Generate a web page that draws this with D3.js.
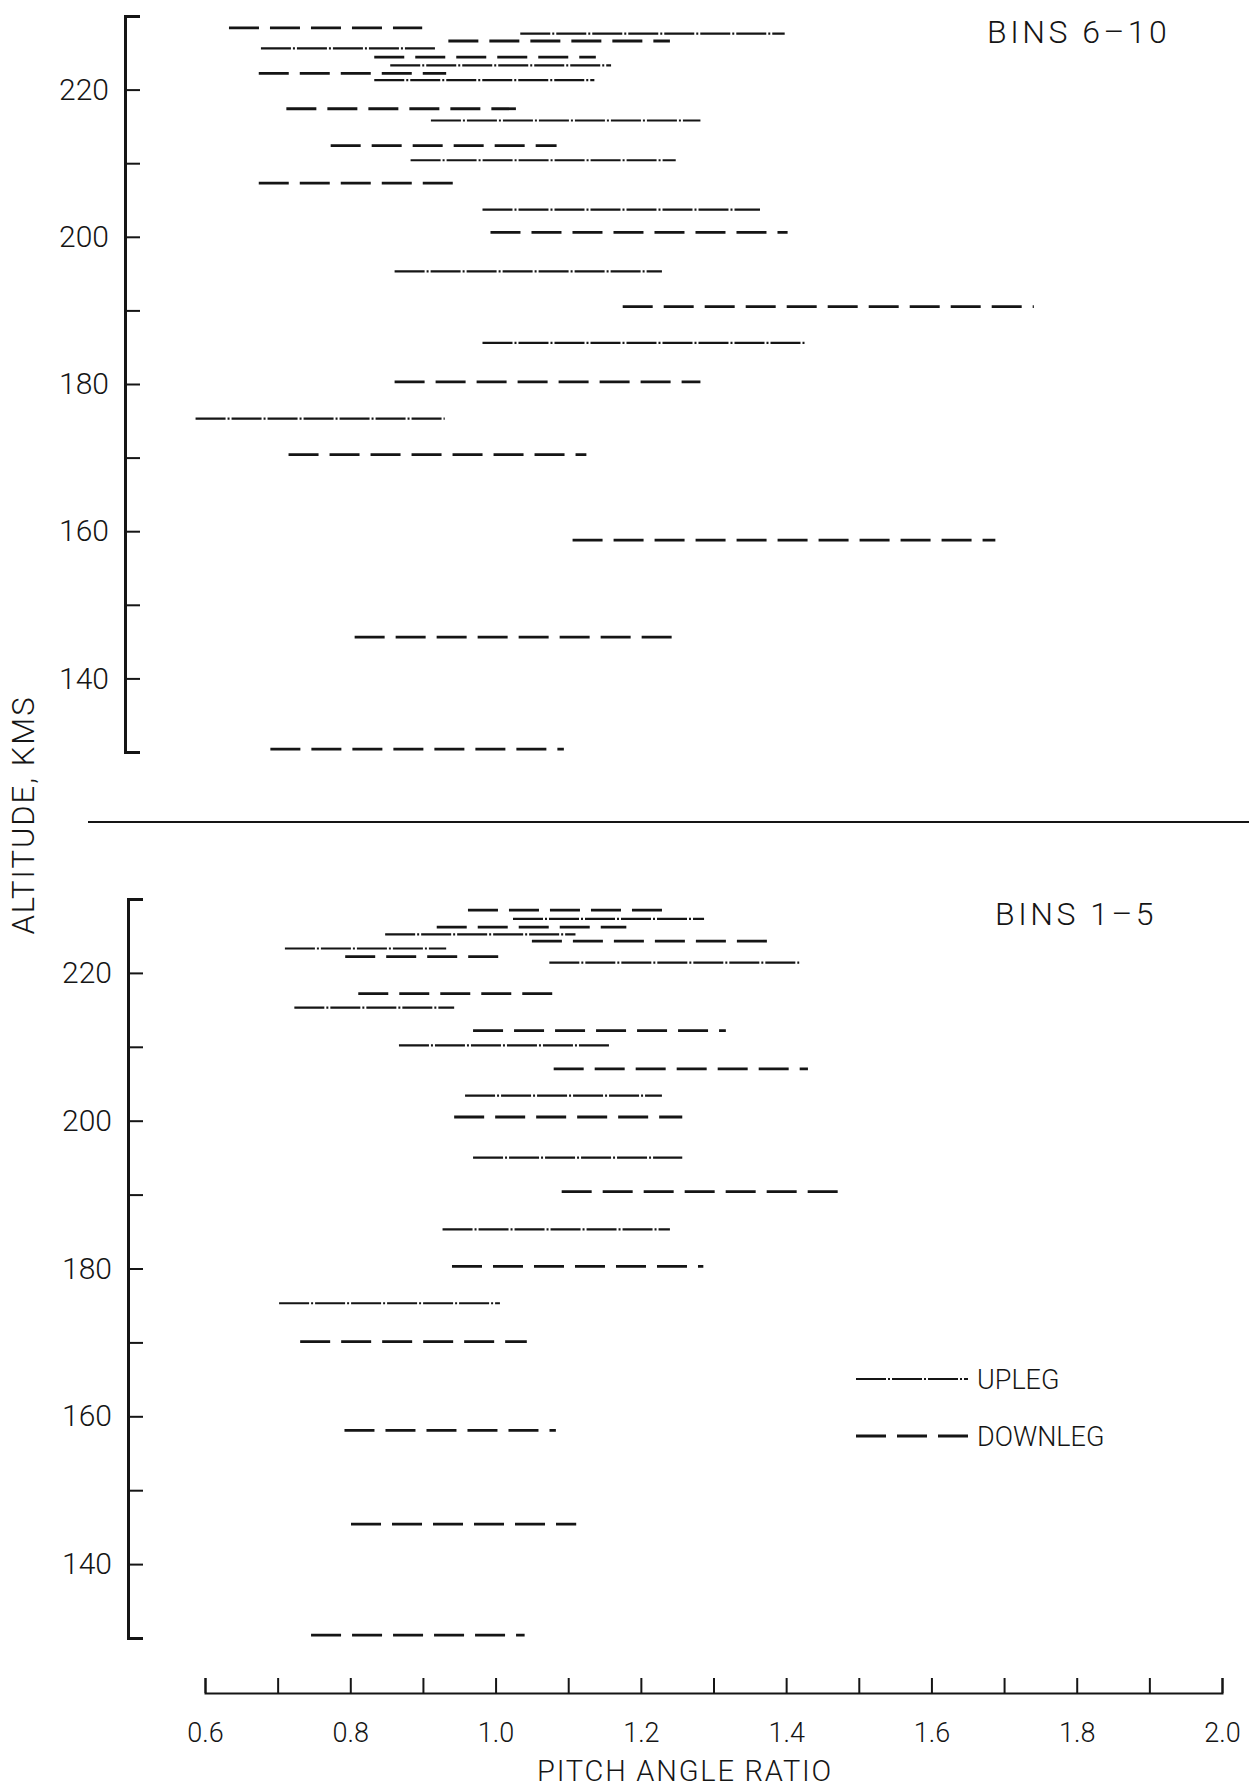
<!DOCTYPE html>
<html><head><meta charset="utf-8">
<script src="https://cdn.jsdelivr.net/npm/d3@7"></script>
<style>
body{margin:0;background:#fff;}
svg{display:block;background:#fff}
text{font-family:"Roboto","Liberation Sans",sans-serif;font-weight:300;fill:#151515}
</style></head><body>
<svg id="c" width="1249" height="1790"></svg>
<script>
// ---- tick values / labels ----
const altitudeTicks = [130,140,150,160,170,180,190,200,210,220,230];
const altitudeLabels = [140,160,180,200,220];
const ratioTicks = [0.6,0.7,0.8,0.9,1.0,1.1,1.2,1.3,1.4,1.5,1.6,1.7,1.8,1.9,2.0];
const ratioLabels = [0.6,0.8,1.0,1.2,1.4,1.6,1.8,2.0];

// ---- BINS 6-10 (upper panel): altitude, pitch-angle-ratio range, leg (U=upleg, D=downleg) ----
const bins610Alt  = [228.4,227.6,226.6,225.6,224.4,223.3,222.2,221.3,217.4,215.8,212.4,210.4,207.3,203.7,200.6,195.3,190.5,185.6,180.3,175.3,170.4,158.8,145.6,130.4];
const bins610Low  = [0.633,1.034,0.935,0.677,0.833,0.855,0.674,0.833,0.712,0.911,0.773,0.883,0.674,0.982,0.993,0.861,1.175,0.982,0.861,0.587,0.715,1.106,0.806,0.690];
const bins610High = [0.899,1.398,1.240,0.919,1.138,1.159,0.932,1.136,1.028,1.282,1.084,1.248,0.951,1.364,1.402,1.229,1.741,1.427,1.282,0.930,1.125,1.688,1.257,1.094];
const bins610Leg  = ["D","U","D","U","D","U","D","U","D","U","D","U","D","U","D","U","D","U","D","U","D","D","D","D"];

// ---- BINS 1-5 (lower panel) ----
const bins15Alt  = [228.5,227.3,226.2,225.2,224.3,223.3,222.2,221.4,217.2,215.3,212.2,210.2,207.0,203.4,200.5,195.0,190.4,185.3,180.3,175.3,170.1,158.1,145.4,130.4];
const bins15Low  = [0.962,1.024,0.919,0.848,1.050,0.710,0.793,1.074,0.811,0.723,0.969,0.867,1.080,0.958,0.943,0.969,1.091,0.927,0.940,0.702,0.731,0.792,0.801,0.746];
const bins15High = [1.240,1.287,1.180,1.110,1.376,0.932,1.015,1.418,1.078,0.943,1.317,1.158,1.430,1.229,1.257,1.257,1.476,1.240,1.286,1.006,1.043,1.083,1.111,1.040];
const bins15Leg  = ["D","U","D","U","D","U","D","U","D","U","D","U","D","U","D","U","D","U","D","U","D","D","D","D"];

const legTypes = ["U","D"];
const legNames = ["UPLEG","DOWNLEG"];

// ---- styles ----
const legStyle = {
  U: {w: 2.2, dash: "30,2,2,2"},
  D: {w: 2.8, dash: "30,11"}
};
const ink = "#151515";
const font = '"Roboto","Liberation Sans",sans-serif';

const svg = d3.select("#c");
const x = d3.scaleLinear().domain([0.6, 2.0]).range([205, 1222]);

const panels = [
  {alt: bins610Alt, lo: bins610Low, hi: bins610High, leg: bins610Leg, axisX: 125, range: [752, 16], title: "BINS 6–10", tx: 987, ty: 43},
  {alt: bins15Alt, lo: bins15Low, hi: bins15High, leg: bins15Leg, axisX: 128, range: [1638, 899], title: "BINS 1–5", tx: 995, ty: 925}
];

panels.forEach(p => {
  const y = d3.scaleLinear().domain([130, 230]).range(p.range);
  const ax = d3.axisLeft(y)
    .tickValues(altitudeTicks)
    .tickSize(-15)
    .tickSizeOuter(-15)
    .tickPadding(16)
    .tickFormat(d => altitudeLabels.includes(d) ? String(d) : "");
  const g = svg.append("g").attr("transform", `translate(${p.axisX},0)`).call(ax);
  g.select(".domain").attr("stroke", ink).attr("stroke-width", 3).attr("fill", "none");
  g.selectAll(".tick line").attr("stroke", ink).attr("stroke-width", 2);
  g.selectAll(".tick text").attr("font-size", 30).attr("fill", ink)
    .attr("font-family", font).attr("font-weight", 300);

  const data = p.alt.map((a, i) => ({a, lo: p.lo[i], hi: p.hi[i], leg: p.leg[i]}));
  svg.append("g").selectAll("line").data(data).join("line")
    .attr("x1", d => x(d.lo)).attr("x2", d => x(d.hi))
    .attr("y1", d => y(d.a)).attr("y2", d => y(d.a))
    .attr("stroke", ink)
    .attr("stroke-width", d => legStyle[d.leg].w)
    .attr("stroke-dasharray", d => legStyle[d.leg].dash);

  svg.append("text").attr("x", p.tx).attr("y", p.ty)
    .attr("font-size", 32).attr("letter-spacing", 3.5).text(p.title);
});

// separator line between panels
svg.append("line").attr("x1", 88).attr("x2", 1249).attr("y1", 822).attr("y2", 822)
  .attr("stroke", ink).attr("stroke-width", 2);

// x axis
const xa = d3.axisBottom(x)
  .tickValues(ratioTicks)
  .tickSize(-15)
  .tickSizeOuter(-15)
  .tickPadding(30)
  .tickFormat(d => ratioLabels.some(v => Math.abs(v - d) < 1e-9) ? d.toFixed(1) : "");
const gx = svg.append("g").attr("transform", "translate(0,1693)").call(xa);
gx.select(".domain").attr("stroke", ink).attr("stroke-width", 2).attr("fill", "none");
gx.selectAll(".tick line").attr("stroke", ink).attr("stroke-width", 2);
gx.selectAll(".tick text").attr("font-size", 27).attr("fill", ink)
  .attr("font-family", font).attr("font-weight", 300);

// axis titles
svg.append("text").attr("x", 685).attr("y", 1781).attr("text-anchor", "middle")
  .attr("font-size", 29).attr("letter-spacing", 1.8).text("PITCH ANGLE RATIO");
svg.append("text").attr("transform", "translate(34,815) rotate(-90)").attr("text-anchor", "middle")
  .attr("font-size", 31).attr("letter-spacing", 2).text("ALTITUDE, KMS");

// legend
const legY = d3.scalePoint().domain(legTypes).range([1379, 1436]);
const lg = svg.append("g");
legTypes.forEach((t, i) => {
  lg.append("line").attr("x1", 856).attr("x2", 968)
    .attr("y1", legY(t)).attr("y2", legY(t))
    .attr("stroke", ink).attr("stroke-width", legStyle[t].w)
    .attr("stroke-dasharray", legStyle[t].dash);
  lg.append("text").attr("x", 977).attr("y", legY(t) + 10)
    .attr("font-size", 27).text(legNames[i]);
});
</script>
</body></html>
